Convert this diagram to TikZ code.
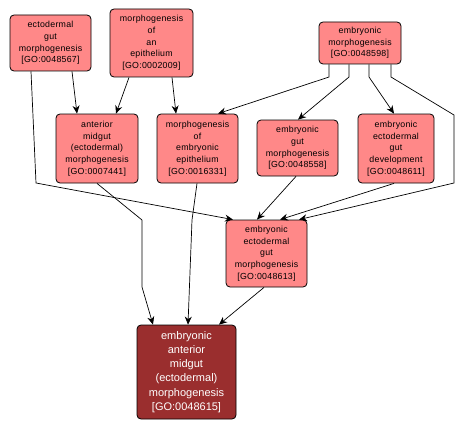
\documentclass[tikz,border=0pt]{standalone}
\usepackage{fontspec}
\setmainfont{Liberation Sans}
\newfontfamily\boxfont[LetterSpace=3]{Liberation Sans}
\usetikzlibrary{arrows.meta}
\definecolor{lightred}{RGB}{255,136,136}
\definecolor{darkred}{RGB}{154,46,46}
\tikzset{
  term/.style={draw=black, line width=0.8pt, rounded corners=4pt, fill=lightred, align=center,
    inner sep=0pt, font=\boxfont\fontsize{8.8}{11.7}\selectfont, text=black},
  mainterm/.style={draw=black, line width=0.8pt, rounded corners=4pt, fill=darkred, align=center,
    inner sep=0pt, font=\fontsize{11}{14.3}\selectfont, text=white},
  conn/.style={draw=black, line width=0.7pt, -{Stealth[length=8pt,width=7pt]}}
}
\begin{document}
\begin{tikzpicture}[x=1pt,y=-1pt]
\useasboundingbox (0,0) rectangle (466,428);
\node[term, minimum width=81pt, minimum height=56pt] (A) at (50.5,43) {ectodermal\\gut\\morphogenesis\\{[}GO:0048567{]}};
\node[term, minimum width=83pt, minimum height=68pt] (B) at (151.5,43) {morphogenesis\\of\\an\\epithelium\\{[}GO:0002009{]}};
\node[term, minimum width=82pt, minimum height=69pt] (C) at (97,148.5) {anterior\\midgut\\(ectodermal)\\morphogenesis\\{[}GO:0007441{]}};
\node[term, minimum width=81pt, minimum height=69pt] (D) at (197.5,148.5) {morphogenesis\\of\\embryonic\\epithelium\\{[}GO:0016331{]}};
\node[term, minimum width=82pt, minimum height=42pt] (E) at (360,43) {embryonic\\morphogenesis\\{[}GO:0048598{]}};
\node[term, minimum width=81pt, minimum height=56pt] (F) at (297.5,148) {embryonic\\gut\\morphogenesis\\{[}GO:0048558{]}};
\node[term, minimum width=76pt, minimum height=69pt] (G) at (396,148.5) {embryonic\\ectodermal\\gut\\development\\{[}GO:0048611{]}};
\node[term, minimum width=81pt, minimum height=67pt] (H) at (266.5,253.5) {embryonic\\ectodermal\\gut\\morphogenesis\\{[}GO:0048613{]}};
\node[mainterm, minimum width=99pt, minimum height=94pt] (I) at (186.5,372) {embryonic\\anterior\\midgut\\(ectodermal)\\morphogenesis\\{[}GO:0048615{]}};

\draw[conn] (A.south -| 72,0) -- (C.north -| 77,0);
\draw[conn] (B.south -| 129,0) -- (C.north -| 116,0);
\draw[conn] (B.south -| 172,0) -- (D.north -| 176,0);
\draw[conn] (E.south -| 329,0) -- (329,77) -- (D.north -| 218,0);
\draw[conn] (E.south -| 349,0) -- (349,77) -- (F.north -| 298,0);
\draw[conn] (E.south -| 369,0) -- (369,77) -- (G.north -| 394,0);
\draw[conn] (E.south -| 391,0) -- (391,77) -- (454,115) -- (454,183) -- (H.north -| 299,0);
\draw[conn] (A.south -| 31,0) -- (36,183) -- (H.north -| 233,0);
\draw[conn] (C.south -| 97,0) -- (142,220) -- (142,287) -- (I.north -| 153,0);
\draw[conn] (D.south -| 197,0) -- (192,220) -- (I.north -| 188,0);
\draw[conn] (F.south -| 296,0) -- (H.north -| 257,0);
\draw[conn] (G.south -| 394,0) -- (H.north -| 280,0);
\draw[conn] (H.south -| 264,0) -- (I.north -| 219,0);
\end{tikzpicture}
\end{document}
